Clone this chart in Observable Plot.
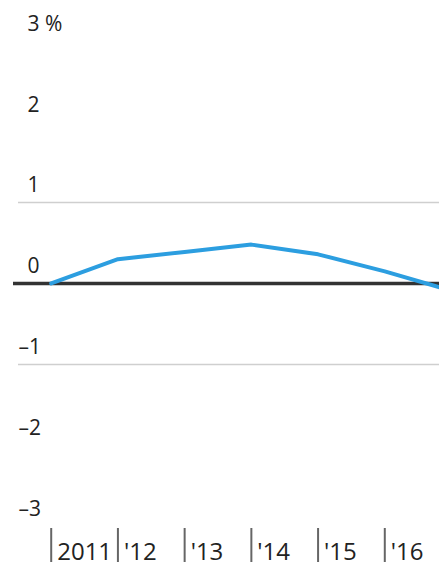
<!DOCTYPE html>
<html>
<head>
<meta charset="utf-8">
<script src="https://cdn.jsdelivr.net/npm/d3@7"></script>
<script src="https://cdn.jsdelivr.net/npm/@observablehq/plot@0.6"></script>
<style>
  body { margin: 0; background: #fff; }
  #chart svg { display: block; }
</style>
</head>
<body>
<div id="chart"></div>
<script>
const years = [2011, 2012, 2013, 2014, 2015, 2016, 2017];
const values = [0, 0.30, 0.39, 0.48, 0.36, 0.15, -0.09];
const tickYears = [2011, 2012, 2013, 2014, 2015, 2016];
const tickLabels = ["2011", "'12", "'13", "'14", "'15", "'16"];
const yTicks = [3, 2, 1, 0, -1, -2, -3];
const yLabels = ["3 %", "2", "1", "0", "\u20131", "\u20132", "\u20133"];
const gridValues = [1, -1];

const series = years.map((y, i) => ({year: y, value: values[i]}));
const yPos = yTicks.map((v, i) => ({v, label: yLabels[i]}));
const xTicks = tickYears.map((y, i) => ({year: y, label: tickLabels[i]}));

const font = "'Open Sans', sans-serif";

const chart = Plot.plot({
  width: 439,
  height: 568,
  marginLeft: 0,
  marginRight: 0,
  marginTop: 0,
  marginBottom: 0,
  style: {fontFamily: font, background: "#fff"},
  x: {domain: [2010.24, 2016.82], axis: null},
  y: {domain: [-3.519, 3.494], axis: null},
  marks: [
    Plot.ruleY(gridValues, {y: d => d, stroke: "#cfcfcf", strokeWidth: 1.5, insetLeft: 18}),
    Plot.ruleY([0], {stroke: "#333", strokeWidth: 3.5, insetLeft: 13}),
    Plot.line(series, {x: "year", y: "value", stroke: "#2c9ee0", strokeWidth: 4, strokeLinejoin: "round"}),
    Plot.text(yPos.filter(d => d.v >= 0), {y: "v", text: "label", frameAnchor: "left", textAnchor: "start", lineAnchor: "bottom", dx: 27, dy: -10, fontSize: 21, fill: "#222"}),
    Plot.text(yPos.filter(d => d.v < 0), {y: "v", text: "label", frameAnchor: "left", textAnchor: "start", lineAnchor: "bottom", dx: 18, dy: -10, fontSize: 21, fill: "#222"}),
    Plot.ruleX(xTicks, {x: "year", stroke: "#666", strokeWidth: 2, insetTop: 528, insetBottom: 6}),
    Plot.text(xTicks, {x: "year", text: "label", frameAnchor: "bottom", textAnchor: "start", lineAnchor: "bottom", dx: 6, dy: -9, fontSize: 24, fill: "#222"})
  ]
});
document.getElementById("chart").appendChild(chart);
</script>
</body>
</html>
